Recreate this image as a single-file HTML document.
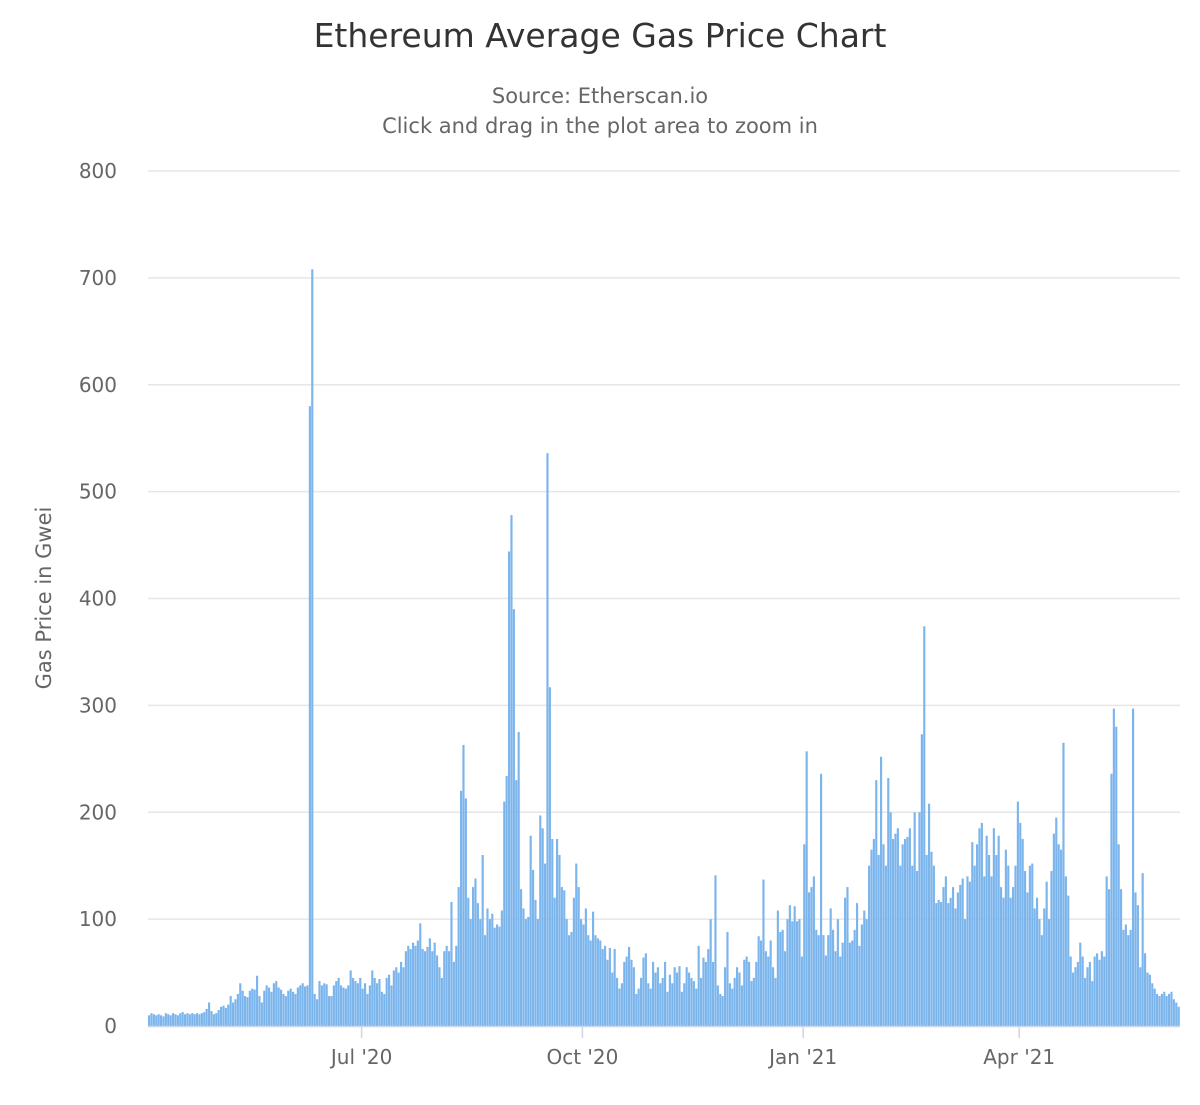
<!DOCTYPE html>
<html><head><meta charset="utf-8"><style>
body{margin:0;background:#fff;font-family:"Liberation Sans","DejaVu Sans",sans-serif}
svg text{font-family:"DejaVu Sans","Liberation Sans",sans-serif}
</style></head><body>
<svg id="chart" width="1200" height="1100" xmlns="http://www.w3.org/2000/svg">
<rect width="1200" height="1100" fill="#fff"/>
<text x="600" y="47" text-anchor="middle" font-size="33" fill="#333">Ethereum Average Gas Price Chart</text>
<text x="600" y="103" text-anchor="middle" font-size="21" fill="#666">Source: Etherscan.io</text>
<text x="600" y="133" text-anchor="middle" font-size="21" fill="#666">Click and drag in the plot area to zoom in</text>
<text transform="translate(51,598) rotate(-90)" text-anchor="middle" font-size="21" fill="#666">Gas Price in Gwei</text>
<g id="grid"></g><g id="bars"></g><g id="xaxis"></g>
</svg>
<script>
const startDate = "2020-04-03";
const gasValues = [
10,12,11,10,11,10,9,12,11,10,
12,11,10,12,13,11,12,11,12,11,
12,11,12,13,16,22,14,11,12,15,
18,19,17,20,28,22,25,30,40,33,
28,27,33,35,34,47,28,22,33,38,
36,32,40,42,36,34,30,28,33,35,
32,30,36,38,40,37,38,580,708,30,
25,42,38,40,39,28,28,38,42,45,
38,36,35,38,52,45,42,40,45,35,
40,30,38,52,45,40,44,32,30,45,
48,38,52,55,50,60,55,70,75,72,
78,75,80,96,72,70,74,82,70,78,
66,55,45,70,75,70,116,60,75,130,
220,263,213,120,100,130,138,115,100,160,
85,110,100,105,92,95,93,108,210,234,
444,478,390,230,275,128,110,100,102,178,
146,118,100,197,185,152,536,317,175,120,
175,160,130,127,100,85,88,120,152,130,
100,95,110,85,80,107,85,82,80,72,
75,62,73,50,72,45,35,40,60,65,
74,62,55,30,35,45,64,68,40,35,
60,50,55,40,45,60,32,48,40,55,
50,56,32,40,55,50,45,42,35,75,
45,64,60,72,100,60,141,38,30,28,
55,88,40,35,45,55,50,38,62,65,
60,42,45,60,84,80,137,70,65,80,
55,45,108,88,90,70,100,113,98,112,
98,100,65,170,257,125,130,140,90,85,
236,85,66,85,110,90,70,100,65,78,
120,130,78,80,90,115,75,95,108,100,
150,165,175,230,160,252,170,150,232,200,
175,180,185,150,170,175,177,185,150,200,
145,200,273,374,160,208,163,150,115,118,
116,130,140,115,120,130,110,125,132,138,
100,140,135,172,150,170,185,190,140,178,
160,140,185,160,178,130,120,165,150,120,
130,150,210,190,175,145,125,150,152,110,
120,100,85,110,135,100,145,180,195,170,
165,265,140,122,65,50,55,60,78,65,
45,55,60,42,65,68,62,70,65,140,
128,236,297,280,170,128,90,95,85,90,
297,125,113,55,143,68,50,48,40,35,
30,28,30,32,28,30,32,25,22,18];
const yTicks = [0,100,200,300,400,500,600,700,800];
const xTickDates = ["2020-07-01","2020-10-01","2021-01-01","2021-04-01"];
const xTickLabels = ["Jul '20","Oct '20","Jan '21","Apr '21"];

const NS="http://www.w3.org/2000/svg";
const L=148,R=1180,T=171,B=1026;
const DAY=86400000, t0=Date.parse(startDate);
const nDays=gasValues.length;
const pxPerDay=(R-L)/nDays;
function xScale(d){return L+d*pxPerDay;}
function yScale(v){return B-(v/800)*(B-T);}
function mk(tag,attrs,parent){const e=document.createElementNS(NS,tag);for(const k in attrs)e.setAttribute(k,attrs[k]);parent.appendChild(e);return e;}
const grid=document.getElementById('grid');
yTicks.forEach(v=>{
  const y=yScale(v);
  if(v>0){const g=mk('line',{x1:L,x2:R,y1:y,y2:y,stroke:'#e6e6e6','stroke-width':1.5},grid);
  
  }
  const t=mk('text',{x:117,y:y+7,'text-anchor':'end','font-size':20,fill:'#666'},grid);
  t.textContent=v;
  
  
});
const bars=document.getElementById('bars');
gasValues.forEach((v,i)=>{
  const y=yScale(v);
  const r=mk('rect',{x:xScale(i),y:y,width:pxPerDay-0.25,height:B-y,fill:'#7cb5ec'},bars);
  
  
});
const xa=document.getElementById('xaxis');
const al=mk('line',{x1:L,x2:R,y1:B+0.5,y2:B+0.5,stroke:'#ccd6eb','stroke-width':1.5},xa);


xTickDates.forEach((ds,i)=>{
  const d=(Date.parse(ds)-t0)/DAY;
  const x=xScale(d);
  const tk=mk('line',{x1:x,x2:x,y1:B,y2:B+12,stroke:'#ccd6eb','stroke-width':1.5},xa);
  
  
  const t=mk('text',{x:x,y:B+38,'text-anchor':'middle','font-size':20,fill:'#666'},xa);
  t.textContent=xTickLabels[i];
  
  
});
</script>
</body></html>
